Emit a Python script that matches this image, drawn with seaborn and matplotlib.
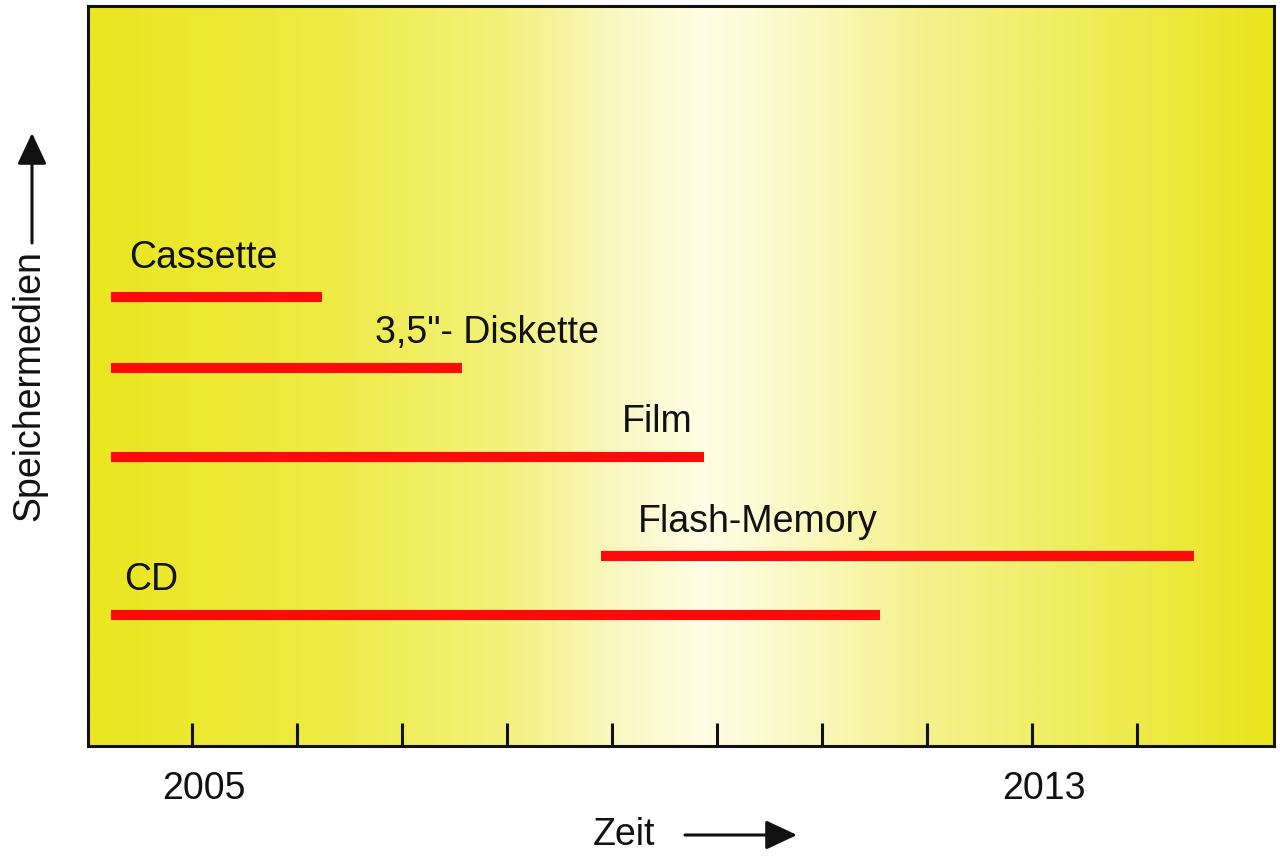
import numpy as np
import pandas as pd
import matplotlib
matplotlib.use("Agg")
import matplotlib.pyplot as plt
from matplotlib.colors import LinearSegmentedColormap
from matplotlib.transforms import ScaledTranslation
import seaborn as sns

# storage media and the years they were in use
media = ["Cassette", '3,5"- Diskette', "Film", "Flash-Memory", "CD"]
start_year = [2004.22, 2004.22, 2004.22, 2008.89, 2004.22]
end_year = [2006.23, 2007.57, 2009.87, 2014.54, 2011.55]
level = [6.07, 5.11, 3.91, 2.57, 1.77]
label_year = [2004.40, 2006.74, 2009.09, 2009.24, 2004.35]
tick_years = list(range(2005, 2015))
labelled_years = [2005, 2013]

# long table for seaborn: two points per medium
rows = []
for m, s, e, lv in zip(media, start_year, end_year, level):
    rows.append({"medium": m, "year": s, "level": lv})
    rows.append({"medium": m, "year": e, "level": lv})
df = pd.DataFrame(rows)

sns.set_theme(style="ticks")
plt.rcParams["font.family"] = ["Liberation Sans", "DejaVu Sans"]

fig = plt.figure(figsize=(12.8, 8.68), dpi=100)
ax = fig.add_axes([88 / 1280, 122 / 868, 1186 / 1280, 740 / 868])

xlim = (2004.005, 2015.3)
ylim = (0, 10)

# yellow -> white -> yellow background
bg = LinearSegmentedColormap.from_list("bg", [
    (0.00, "#eae61f"), (0.20, "#eeeb45"), (0.35, "#f3f17c"),
    (0.45, "#faf8c4"), (0.52, "#fffee6"), (0.59, "#fbf9c8"),
    (0.70, "#f5f290"), (0.85, "#efec58"), (1.00, "#eae51c")])
ax.imshow(np.linspace(0, 1, 400)[None, :], cmap=bg, aspect="auto",
          extent=(*xlim, *ylim), zorder=0, interpolation="bilinear")

sns.lineplot(data=df, x="year", y="level", hue="medium", units="medium",
             estimator=None, palette=["#ff0a0a"] * len(media), legend=False,
             linewidth=7.3, solid_capstyle="butt", sort=False, ax=ax, zorder=3)

offsets = [0.39, 0.33, 0.33, 0.32, 0.34]
for m, lx, lv, off in zip(media, label_year, level, offsets):
    ax.text(lx, lv + off, m, fontsize=27, color="#111111", va="baseline", ha="left")

ax.set_xlim(*xlim)
ax.set_ylim(*ylim)
ax.set_xticks(tick_years, minor=True)
ax.set_xticks(labelled_years)
ax.set_xticklabels([str(y) for y in labelled_years], fontsize=27, color="#111111")
ax.set_yticks([])
ax.tick_params(axis="x", which="both", direction="in", length=16.5, width=2.2,
               color="#111111", pad=18)
for lab in ax.get_xticklabels():
    lab.set_transform(lab.get_transform() + ScaledTranslation(0.11, 0, fig.dpi_scale_trans))
for sp in ax.spines.values():
    sp.set_linewidth(2.2)
    sp.set_color("#111111")
ax.set_xlabel("")
ax.set_ylabel("")

# axis titles with arrows
fig.text(29 / 1280, 1 - 386 / 868, "Speichermedien", rotation=90, fontsize=27,
         color="#111111", ha="center", va="center")
fig.text(624 / 1280, 1 - 835 / 868, "Zeit", fontsize=27, color="#111111",
         ha="center", va="center")
arrow_style = dict(arrowstyle="-|>,head_length=1.6,head_width=0.75",
                   color="#111111", lw=2.2, shrinkA=0, shrinkB=0)
fig.add_artist(plt.Annotation("", xy=(32 / 1280, 1 - 133 / 868), xytext=(32 / 1280, 1 - 243 / 868),
                              xycoords="figure fraction", textcoords="figure fraction",
                              arrowprops=arrow_style))
fig.add_artist(plt.Annotation("", xy=(797 / 1280, 1 - 835 / 868), xytext=(685 / 1280, 1 - 835 / 868),
                              xycoords="figure fraction", textcoords="figure fraction",
                              arrowprops=arrow_style))

fig.savefig("out.png", dpi=100)
